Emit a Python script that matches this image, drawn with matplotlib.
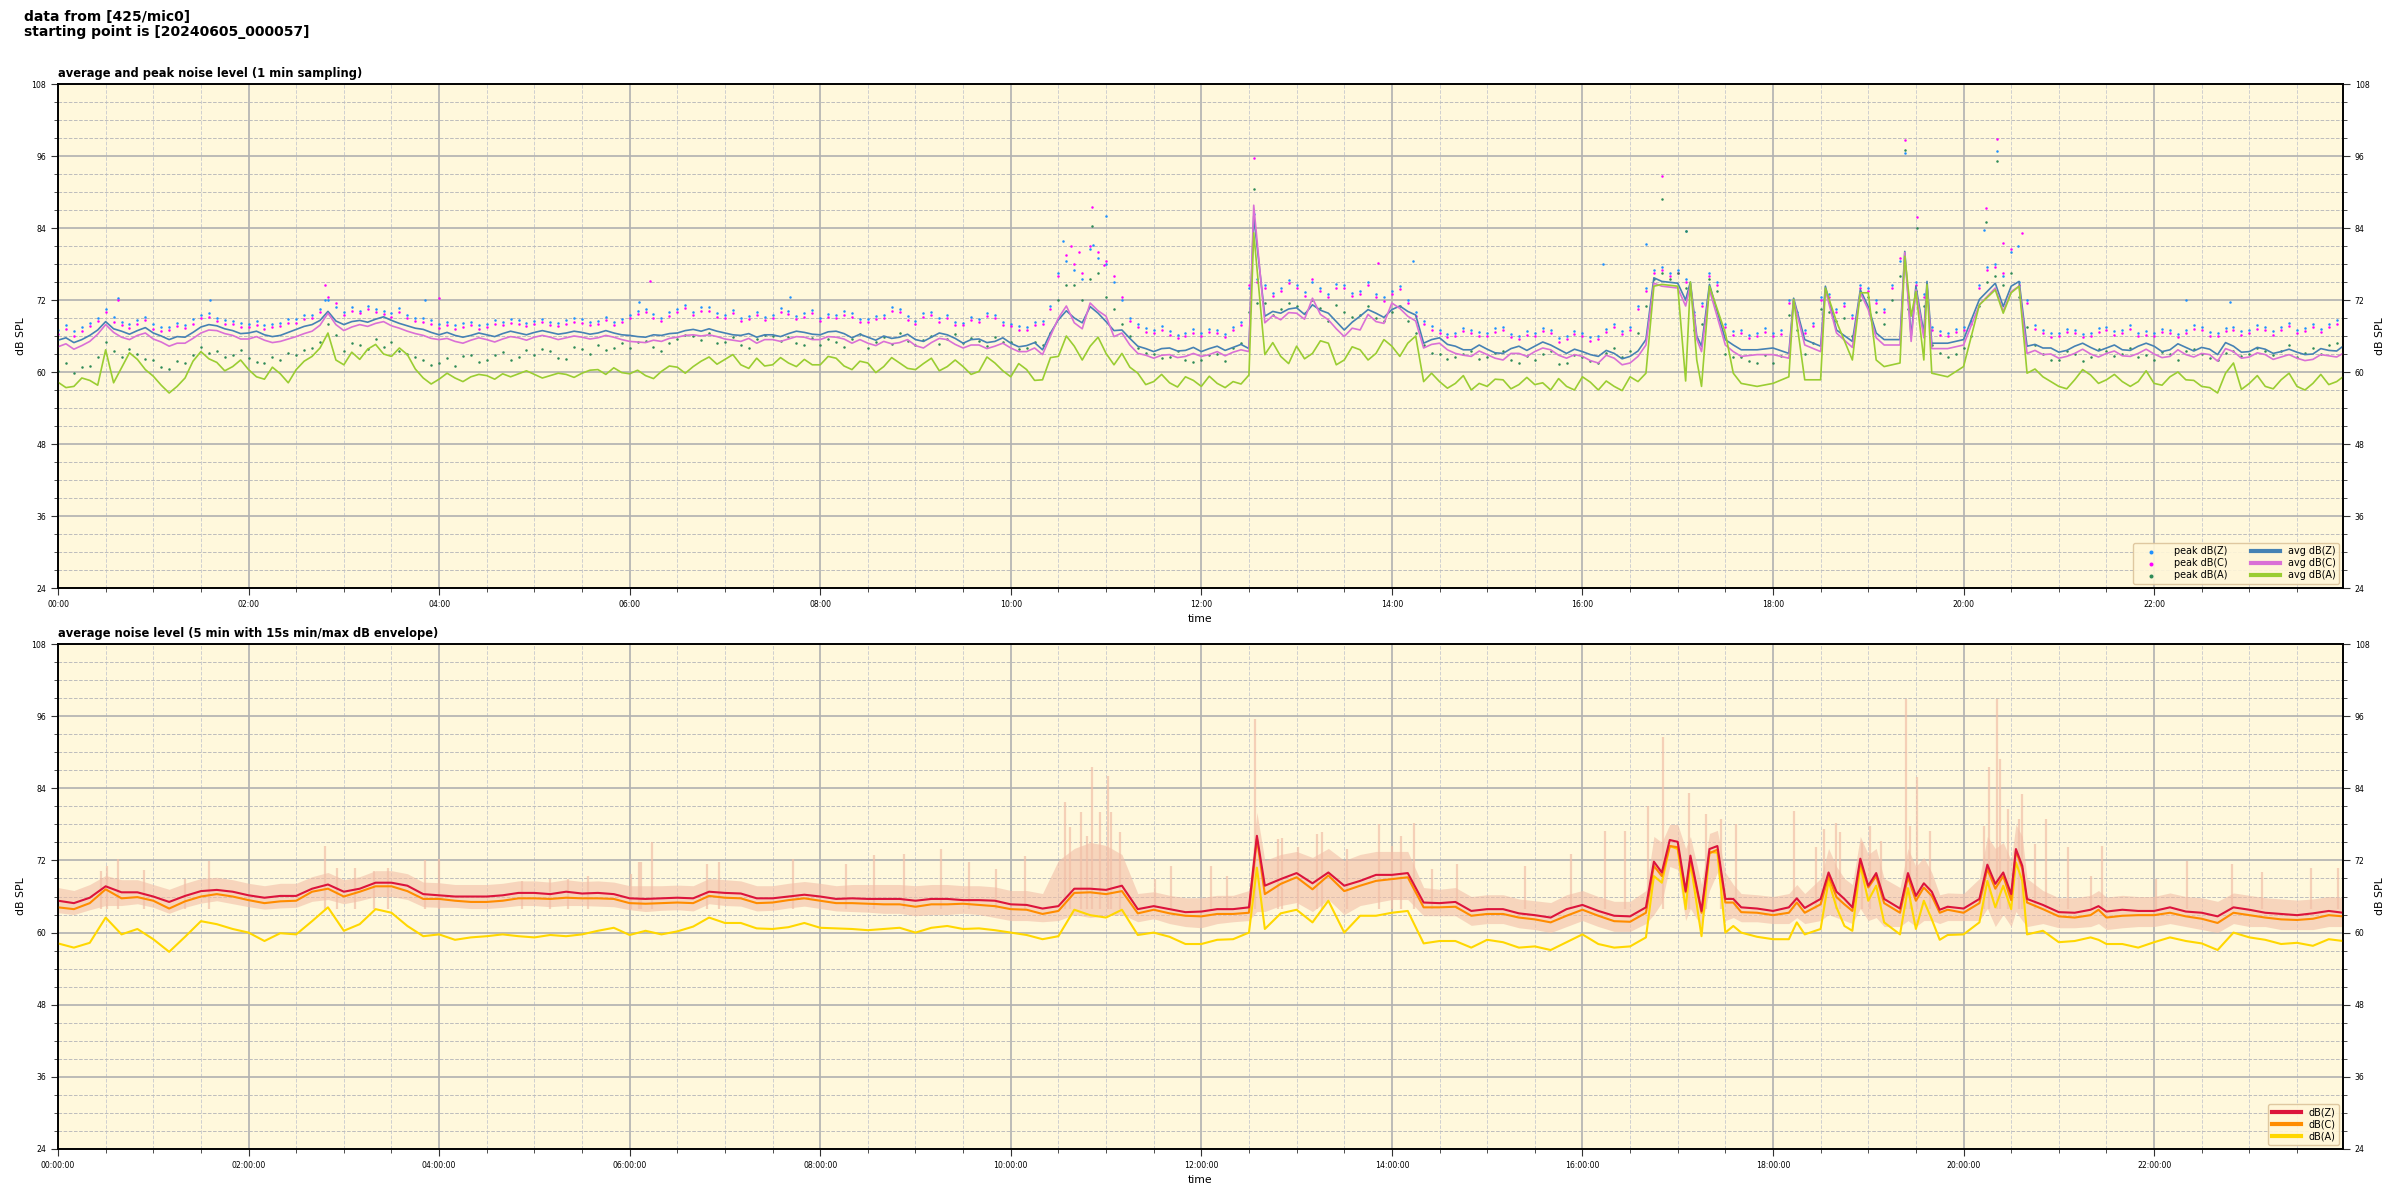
import matplotlib
matplotlib.use("Agg")
import matplotlib.pyplot as plt
from matplotlib.ticker import MultipleLocator, FuncFormatter
from matplotlib.lines import Line2D

# ---------------- top panel: 1-min averages (minutes after 00:00)
top_t = [0, 10, 20, 30, 40, 50, 60, 70, 80, 90, 100, 110, 120, 130, 140, 150, 160, 170, 180, 190,
         200, 210, 220, 230, 240, 250, 260, 270, 280, 290, 300, 310, 320, 330, 340, 350, 360, 370, 380, 390,
         400, 410, 420, 430, 440, 450, 460, 470, 480, 490,
         500, 510, 520, 530, 540, 550, 560, 570, 580, 590, 600, 610, 620, 630, 640, 650, 660, 670, 680, 690,
         700, 710, 720, 730, 740, 750, 753,
         760, 770, 780, 790, 800, 810, 820, 830, 840, 850, 860, 870, 880, 890, 900, 910, 920, 930, 940, 950,
         960, 970, 980, 990, 1000,
         1005, 1010, 1020, 1025, 1028, 1032, 1035, 1040, 1050, 1055, 1060, 1070, 1080, 1090, 1093, 1100, 1110,
         1113, 1120, 1130, 1135, 1140, 1145, 1150, 1160, 1163, 1167, 1170, 1175, 1177, 1180, 1190, 1200, 1210,
         1220, 1225, 1230, 1235, 1240,
         1250, 1260, 1270, 1280, 1290, 1300, 1310, 1320, 1330, 1340, 1350, 1360, 1370, 1380, 1390, 1400, 1410,
         1420, 1430, 1439]

avg_z = [65.3, 64.9, 66.1, 68.4, 66.8, 66.9, 66.5, 65.4, 65.8, 67.5, 67.7, 66.9, 66.5, 66.2, 66.1, 67.1, 67.9, 70.1, 67.9, 68.6,
         68.8, 68.6, 67.7, 67.1, 66.2, 66.1, 66.1, 66.2, 66.4, 66.5, 66.6, 66.6, 66.5, 66.6, 66.5, 66.5, 66.1, 65.8, 66.1, 66.5,
         67.1, 67.2, 66.5, 66.1, 65.8, 66.2, 66.4, 66.6, 66.2, 66.8,
         65.7, 65.8, 66.0, 65.8, 65.4, 65.8, 66.2, 64.8, 65.5, 65.1, 64.8, 64.4, 63.7, 68.7, 69.0, 70.9, 68.4, 67.0, 64.3, 63.4,
         64.0, 63.6, 63.4, 64.3, 64.1, 63.9, 86.0,
         69.3, 69.8, 70.7, 71.2, 69.8, 67.0, 69.3, 69.8, 70.4, 70.1, 64.8, 65.7, 64.3, 63.7, 63.8, 63.1, 64.3, 64.3, 64.5, 63.1,
         63.4, 62.6, 63.1, 62.6, 65.4,
         75.7, 75.1, 74.8, 72.0, 75.0, 66.0, 64.3, 74.6, 65.4, 64.5, 63.7, 63.7, 64.0, 63.1, 72.3, 65.4, 64.3,
         74.3, 67.0, 65.1, 73.7, 70.9, 66.5, 65.4, 65.4, 80.1, 65.9, 74.3, 66.5, 75.1, 64.8, 64.8, 65.4, 72.1,
         74.8, 70.9, 74.3, 75.1, 64.3,
         64.0, 63.3, 64.3, 64.1, 64.0, 63.7, 64.3, 64.3, 63.7, 64.1, 64.1, 62.9, 64.3, 63.4, 63.8, 63.4, 63.3,
         63.0, 63.6, 64.3]

avg_c = [64.2, 63.8, 65.1, 67.9, 65.8, 66.1, 65.5, 64.3, 64.8, 66.5, 66.9, 66.1, 65.5, 65.3, 65.1, 65.9, 66.8, 69.8, 66.9, 67.9,
         68.1, 67.7, 66.8, 66.1, 65.4, 65.1, 65.3, 65.4, 65.5, 65.7, 65.8, 65.8, 65.7, 65.8, 65.7, 65.8, 65.1, 64.9, 65.1, 65.8,
         66.2, 66.2, 65.5, 65.1, 64.8, 65.4, 65.5, 65.8, 65.4, 65.8,
         64.8, 64.8, 65.1, 64.9, 64.4, 64.9, 65.4, 64.0, 64.5, 64.3, 64.0, 63.4, 62.9, 69.0, 68.2, 71.5, 69.3, 66.5, 63.1, 62.3,
         62.9, 62.6, 62.6, 63.4, 63.3, 63.4, 87.8,
         68.2, 68.7, 69.8, 72.3, 68.7, 65.9, 67.0, 68.4, 71.5, 69.3, 64.0, 64.8, 63.1, 62.6, 62.9, 62.0, 63.1, 63.4, 63.7, 62.3,
         62.6, 61.5, 62.3, 61.5, 64.5,
         74.8, 74.3, 74.0, 71.0, 74.5, 65.5, 63.4, 73.7, 64.5, 63.4, 62.6, 62.9, 62.9, 62.3, 72.0, 64.5, 63.4,
         73.7, 66.5, 64.1, 73.2, 70.4, 65.7, 64.5, 64.5, 79.9, 65.1, 73.7, 65.7, 74.3, 63.9, 63.9, 64.5, 71.2,
         74.0, 70.1, 73.4, 74.3, 63.1,
         62.9, 62.3, 63.1, 63.0, 63.1, 62.7, 63.1, 63.0, 62.6, 62.9, 63.1, 61.8, 63.4, 62.5, 62.9, 62.5, 62.3,
         62.1, 62.7, 63.1]

avg_a = [58.3, 57.6, 58.6, 63.7, 60.7, 62.1, 59.3, 56.5, 59.0, 63.4, 61.6, 60.9, 60.4, 58.8, 59.7, 60.4, 62.6, 66.5, 61.2, 62.1,
         64.6, 62.6, 62.9, 59.0, 58.8, 59.0, 59.2, 59.4, 59.7, 59.7, 59.6, 59.4, 59.6, 59.8, 60.4, 60.7, 59.7, 59.4, 60.1, 60.8,
         60.9, 62.5, 62.1, 61.2, 62.3, 61.2, 61.5, 62.1, 61.2, 62.3,
         60.4, 61.5, 60.9, 61.5, 60.4, 62.3, 60.9, 60.9, 60.1, 61.5, 59.2, 60.4, 58.7, 62.6, 64.3, 64.3, 63.1, 63.1, 59.8, 58.4,
         58.2, 59.2, 57.6, 58.1, 58.4, 59.5, 83.2,
         62.9, 62.6, 64.3, 63.1, 64.8, 62.0, 63.7, 63.1, 64.3, 64.8, 58.4, 58.4, 58.1, 57.0, 57.6, 58.7, 57.9, 57.9, 57.0, 57.6,
         59.2, 57.0, 57.6, 59.2, 59.8,
         74.3, 74.6, 74.3, 58.5, 75.0, 62.0, 57.6, 74.3, 66.5, 59.8, 58.1, 57.6, 58.1, 59.2, 72.1, 58.7, 58.7,
         74.0, 68.4, 62.0, 73.2, 73.2, 62.0, 60.9, 61.5, 79.3, 69.3, 73.4, 62.0, 74.6, 59.8, 59.2, 60.9, 71.2,
         73.7, 69.8, 73.2, 74.3, 59.8,
         59.2, 57.6, 58.7, 59.5, 58.7, 58.4, 58.4, 58.1, 59.2, 58.7, 57.6, 56.5, 61.5, 58.1, 57.6, 58.7, 57.6,
         58.1, 57.9, 59.2]

# additional 1-min average readings in the calmer stretches (minute, dB)
mid_t = [5, 15, 25, 35, 45, 55, 65, 75, 85, 95, 105, 115, 125, 135, 145, 155, 165, 175, 185, 195,
         205, 215, 225, 235, 245, 255, 265, 275, 285, 295, 305, 315, 325, 335, 345, 355, 365, 375, 385, 395,
         405, 415, 425, 435, 445, 455, 465, 475, 485, 495,
         505, 515, 525, 535, 545, 555, 565, 575, 585, 595, 605, 615, 625, 635, 645, 655, 665, 675, 685, 695,
         705, 715, 725, 735, 745,
         765, 775, 785, 795, 805, 815, 825, 835, 845, 855, 865, 875, 885, 895, 905, 915, 925, 935, 945, 955,
         965, 975, 985, 995,
         1245, 1255, 1265, 1275, 1285, 1295, 1305, 1315, 1325, 1335, 1345, 1355, 1365, 1375, 1385, 1395, 1405,
         1415, 1425, 1435]
mid_z = [65.7, 65.4, 67.0, 67.2, 66.3, 67.4, 66.0, 65.9, 66.6, 67.9, 67.2, 66.4, 66.8, 65.9, 66.6, 67.6, 68.6, 68.5, 68.4, 68.3,
         69.2, 68.1, 67.3, 66.6, 66.6, 65.8, 66.5, 65.9, 66.8, 66.2, 66.9, 66.3, 66.8, 66.3, 66.9, 66.2, 65.9, 66.2, 66.4, 66.9,
         66.8, 66.8, 66.2, 66.4, 66.2, 65.9, 66.8, 66.3, 66.7, 66.4,
         66.3, 65.3, 65.6, 66.3, 65.1, 66.5, 65.6, 65.4, 64.9, 65.7, 64.2, 64.9, 66.5, 70.2, 68.2, 69.8, 66.9, 65.6, 63.9, 63.9,
         63.5, 64.1, 63.9, 63.6, 64.6,
         70.1, 70.5, 69.6, 70.3, 68.4, 68.3, 70.4, 69.1, 71.0, 69.5, 65.4, 64.6, 63.7, 64.5, 63.2, 63.9, 63.6, 65.0, 63.8, 63.8,
         62.9, 63.6, 62.2, 63.5,
         64.6, 64.0, 63.6, 64.8, 63.5, 64.5, 63.6, 64.8, 63.4, 64.7, 63.5, 63.8, 64.9, 63.3, 64.1, 63.1, 63.8,
         62.9, 63.9, 63.5]
mid_c = [64.7, 64.4, 66.3, 66.6, 65.4, 66.5, 65.0, 64.8, 65.6, 67.0, 66.4, 65.5, 65.9, 64.9, 65.5, 66.4, 67.8, 67.9, 67.5, 67.6,
         68.4, 67.3, 66.4, 65.6, 65.6, 64.8, 65.7, 65.0, 65.9, 65.3, 66.1, 65.4, 66.0, 65.5, 66.1, 65.4, 65.0, 65.3, 65.6, 66.1,
         66.0, 65.9, 65.3, 65.6, 65.4, 65.1, 65.9, 65.4, 65.9, 65.5,
         65.4, 64.4, 64.7, 65.4, 64.0, 65.6, 64.6, 64.5, 63.9, 64.8, 63.4, 64.0, 66.0, 71.0, 67.2, 70.2, 65.9, 64.5, 62.8, 62.8,
         62.4, 63.1, 62.9, 62.7, 63.7,
         69.4, 69.9, 68.8, 69.6, 67.2, 67.3, 69.6, 68.1, 70.6, 68.5, 64.6, 63.7, 62.8, 63.5, 62.3, 63.1, 62.6, 64.0, 62.8, 62.9,
         61.9, 62.8, 61.2, 62.6,
         63.6, 63.0, 62.6, 63.8, 62.5, 63.5, 62.6, 63.8, 62.4, 63.7, 62.5, 62.9, 63.9, 62.3, 63.2, 62.1, 62.9,
         61.9, 62.9, 62.5]
mid_a = [57.4, 59.0, 57.8, 58.2, 63.2, 60.4, 57.8, 57.6, 61.8, 62.2, 60.2, 62.0, 59.2, 60.8, 58.2, 61.8, 64.0, 62.0, 63.3, 63.8,
         63.0, 64.0, 60.5, 58.0, 59.8, 58.4, 59.6, 58.8, 59.2, 60.2, 59.0, 59.8, 59.1, 60.3, 59.6, 59.9, 60.3, 58.9, 61.0, 59.8,
         61.8, 61.3, 62.9, 60.6, 61.0, 62.4, 60.9, 61.2, 62.6, 61.0,
         61.8, 59.9, 62.4, 60.6, 61.4, 60.2, 62.0, 59.6, 62.5, 60.2, 61.4, 58.6, 62.4, 66.0, 62.0, 65.8, 61.2, 60.8, 57.9, 59.6,
         57.5, 58.6, 59.3, 57.4, 58.0,
         64.9, 61.4, 62.2, 65.2, 61.2, 64.2, 62.0, 65.4, 62.6, 66.0, 59.8, 57.3, 59.4, 58.1, 58.8, 57.2, 59.1, 58.2, 58.9, 57.0,
         58.3, 58.5, 56.9, 58.4,
         60.5, 58.4, 57.2, 60.4, 58.1, 59.6, 57.6, 60.2, 57.8, 60.0, 58.6, 57.4, 59.8, 57.1, 59.4, 57.2, 59.8,
         57.0, 59.6, 58.4]

# peak values, readings every 10 min starting 00:00 (set 1) and 00:05 (set 2)
peak_z = [67.0, 66.8, 68.2, 70.5, 68.3, 68.6, 68.0, 67.5, 67.8, 69.5, 69.0, 68.5,
          68.0, 67.8, 68.2, 68.8, 69.5, 72.0, 70.0, 70.2, 70.5, 69.8, 69.5, 69.0,
          68.0, 67.8, 68.4, 68.0, 68.3, 68.6, 68.5, 68.4, 68.6, 68.8, 68.5, 68.4,
          69.5, 70.5, 69.0, 70.5, 70.0, 70.8, 69.5, 69.0, 70.0, 69.5, 70.2, 69.8,
          69.0, 69.5, 69.8, 68.8, 69.5, 70.5, 68.5, 70.0, 69.5, 68.2, 68.8, 69.5,
          68.0, 67.5, 68.5, 76.5, 77.0, 80.5, 78.0, 72.0, 68.0, 67.0, 66.8, 66.5,
          66.5, 67.0, 67.5, 74.0, 74.5, 74.0, 74.5, 75.0, 73.0, 74.5, 73.5, 73.0,
          73.5, 72.0, 68.5, 67.0, 66.5, 67.0, 66.5, 67.5, 66.0, 66.5, 67.0, 66.0,
          66.5, 66.0, 68.0, 67.5, 74.0, 77.5, 77.0, 70.0, 76.5, 68.0, 67.0, 66.5,
          66.5, 72.0, 67.0, 72.5, 70.5, 69.5, 74.0, 70.5, 78.5, 75.0, 67.5, 66.5,
          67.5, 74.5, 78.0, 80.0, 72.0, 67.0, 66.5, 67.0, 66.5, 67.5, 67.0, 66.5,
          66.5, 67.0, 67.0, 67.5, 66.5, 67.5, 67.0, 67.5, 67.5, 67.0, 68.0, 68.0]
peak_c = [66.4, 66.0, 67.6, 70.0, 67.8, 68.0, 67.2, 67.0, 67.4, 69.0, 68.5, 68.0,
          67.5, 67.2, 67.6, 68.2, 69.0, 72.5, 69.5, 69.8, 70.0, 69.2, 69.0, 68.4,
          67.4, 67.2, 67.8, 67.5, 67.8, 68.0, 68.0, 67.8, 68.0, 68.2, 68.0, 67.8,
          69.0, 70.0, 68.5, 70.0, 69.5, 70.2, 69.0, 68.5, 69.5, 69.0, 69.6, 69.2,
          68.5, 69.0, 69.2, 68.3, 69.0, 70.0, 68.0, 69.5, 69.0, 67.8, 68.3, 69.0,
          67.6, 67.0, 68.0, 76.0, 78.0, 81.0, 78.5, 72.5, 67.5, 66.5, 66.2, 66.0,
          66.0, 66.5, 67.0, 74.5, 74.0, 73.5, 74.0, 75.5, 72.5, 74.0, 73.0, 72.5,
          73.0, 71.5, 68.0, 66.5, 66.0, 66.5, 66.0, 67.0, 65.5, 66.0, 66.5, 65.5,
          66.0, 65.5, 67.5, 67.0, 73.5, 77.0, 76.5, 69.5, 76.0, 67.5, 66.5, 66.0,
          66.0, 71.5, 66.5, 72.0, 70.0, 69.0, 73.5, 70.0, 79.0, 74.5, 67.0, 66.0,
          67.0, 74.0, 77.5, 80.5, 71.5, 66.5, 66.0, 66.5, 66.0, 67.0, 66.5, 66.0,
          66.0, 66.5, 66.5, 67.0, 66.0, 67.0, 66.5, 67.0, 67.0, 66.5, 67.5, 67.5]
peak_a = [60.2, 59.8, 61.0, 65.0, 62.5, 63.0, 62.0, 60.5, 61.5, 64.2, 63.5, 62.8,
          62.3, 61.5, 62.0, 62.8, 64.0, 68.0, 63.5, 64.5, 65.5, 65.0, 63.0, 62.0,
          61.5, 61.0, 62.8, 62.0, 63.3, 62.5, 62.8, 63.5, 62.2, 63.8, 64.5, 64.0,
          64.0, 65.2, 63.5, 65.5, 66.0, 66.5, 65.0, 64.5, 65.5, 66.0, 65.8, 64.5,
          64.5, 65.0, 65.5, 64.0, 65.8, 66.5, 64.5, 66.0, 65.5, 64.8, 65.2, 65.8,
          65.0, 64.0, 64.5, 72.0, 74.5, 75.5, 72.5, 68.0, 64.0, 63.0, 62.5, 62.0,
          62.0, 63.0, 64.0, 70.0, 71.5, 70.5, 71.0, 72.0, 68.5, 70.0, 69.5, 69.0,
          70.0, 68.5, 64.5, 63.0, 62.5, 63.5, 62.5, 63.5, 61.5, 62.0, 63.5, 61.5,
          62.5, 61.5, 64.0, 63.5, 71.0, 76.5, 76.5, 67.0, 75.5, 63.0, 62.5, 61.5,
          61.5, 69.5, 63.0, 70.5, 68.5, 66.0, 72.5, 68.0, 76.0, 73.5, 64.5, 62.5,
          64.0, 71.0, 76.0, 76.5, 67.5, 63.0, 62.0, 63.0, 62.5, 63.5, 63.0, 62.5,
          62.0, 63.0, 63.5, 63.0, 62.0, 63.5, 63.0, 63.5, 63.5, 62.5, 64.0, 64.5]
peak2_z = [67.8, 67.5, 69.0, 69.2, 68.0, 69.2, 67.5, 68.2, 68.8, 69.8, 68.6, 68.2,
           68.5, 68.0, 68.8, 69.5, 70.5, 70.8, 70.8, 71.0, 70.2, 70.6, 69.0, 68.6,
           68.4, 68.2, 67.9, 68.6, 68.8, 68.2, 68.9, 68.2, 69.0, 68.4, 69.2, 68.9,
           70.2, 69.6, 70.0, 71.2, 70.8, 69.8, 70.4, 69.4, 69.2, 70.6, 69.3, 70.4,
           69.7, 70.1, 68.9, 69.4, 70.8, 69.3, 69.8, 69.0, 68.4, 69.2, 69.9, 68.4,
           67.6, 68.4, 71.0, 78.5, 75.5, 79.0, 75.0, 69.0, 67.3, 67.6, 66.2, 67.1,
           67.2, 66.4, 68.4, 75.5, 73.2, 75.4, 73.3, 74.0, 74.6, 73.2, 75.0, 72.5,
           74.4, 70.0, 67.6, 66.4, 67.4, 66.6, 67.3, 66.4, 66.8, 67.4, 65.6, 66.9,
           65.8, 67.2, 66.9, 71.0, 77.0, 76.5, 75.5, 71.5, 75.0, 66.8, 66.2, 67.3,
           67.0, 70.0, 68.2, 73.0, 71.5, 74.5, 72.0, 74.5, 72.5, 73.0, 66.8, 67.2,
           68.5, 77.5, 76.0, 75.0, 67.8, 66.5, 67.2, 66.4, 67.3, 66.8, 67.8, 66.8,
           67.2, 66.4, 67.8, 66.6, 67.4, 66.8, 67.8, 66.8, 68.2, 67.4, 67.2, 68.6]
peak2_c = [67.2, 66.8, 68.5, 68.4, 67.4, 68.6, 66.9, 67.6, 68.0, 69.2, 68.0, 67.5,
           67.8, 67.5, 68.2, 68.8, 70.0, 71.5, 70.2, 70.5, 69.6, 70.0, 68.5, 68.0,
           67.8, 67.5, 67.2, 68.0, 68.2, 67.6, 68.4, 67.6, 68.4, 67.8, 68.6, 68.3,
           69.6, 69.0, 69.4, 70.6, 70.2, 69.2, 69.8, 68.8, 68.6, 70.0, 68.8, 69.8,
           69.1, 69.5, 68.3, 68.8, 70.2, 68.7, 69.2, 68.4, 67.8, 68.6, 69.3, 67.9,
           67.0, 67.8, 70.5, 79.5, 76.5, 80.0, 76.0, 68.5, 66.7, 67.0, 65.6, 66.5,
           66.6, 65.8, 67.8, 75.0, 72.6, 74.8, 72.7, 73.5, 74.0, 72.6, 74.5, 71.9,
           73.8, 69.4, 67.0, 65.8, 66.8, 66.0, 66.7, 65.8, 66.2, 66.8, 65.0, 66.3,
           65.2, 66.6, 66.3, 70.5, 76.5, 76.0, 75.0, 71.0, 74.5, 66.2, 65.6, 66.7,
           66.4, 69.5, 67.6, 72.5, 71.0, 74.0, 71.5, 74.0, 72.0, 72.5, 66.2, 66.6,
           68.0, 77.0, 76.5, 74.5, 67.2, 65.9, 66.6, 65.8, 66.7, 66.2, 67.2, 66.2,
           66.6, 65.8, 67.2, 66.0, 66.8, 66.2, 67.2, 66.2, 67.6, 66.8, 66.6, 68.0]
peak2_a = [61.5, 60.8, 62.5, 63.5, 63.8, 62.2, 60.8, 61.8, 62.8, 63.2, 62.5, 63.6,
           61.6, 62.5, 63.2, 63.6, 65.0, 66.2, 64.8, 63.8, 64.2, 63.5, 62.5, 61.2,
           62.3, 62.6, 61.6, 62.8, 62.0, 63.6, 63.9, 62.4, 64.2, 63.0, 63.6, 64.8,
           65.0, 64.2, 64.8, 66.2, 65.4, 64.8, 65.8, 64.0, 66.2, 65.2, 64.8, 65.6,
           65.5, 64.2, 66.4, 65.0, 64.6, 65.2, 65.4, 64.6, 66.3, 65.6, 64.4, 65.0,
           63.8, 65.0, 66.5, 74.5, 72.0, 76.5, 70.5, 66.0, 63.2, 62.4, 63.5, 61.6,
           62.8, 61.8, 64.8, 71.5, 69.5, 71.5, 69.8, 70.6, 71.2, 69.2, 71.0, 68.5,
           71.0, 66.5, 63.2, 62.2, 63.0, 62.2, 63.2, 62.0, 62.6, 63.0, 61.4, 62.8,
           61.8, 63.2, 62.5, 66.5, 75.5, 75.5, 74.0, 68.0, 73.5, 62.5, 61.8, 62.8,
           62.6, 67.0, 64.8, 70.0, 69.0, 72.0, 70.0, 72.0, 70.5, 71.0, 63.2, 63.0,
           66.0, 75.0, 74.5, 72.5, 64.5, 62.0, 63.5, 61.8, 63.8, 62.6, 64.0, 62.8,
           63.4, 62.0, 63.8, 62.4, 63.2, 62.6, 64.0, 62.8, 64.5, 63.2, 63.0, 64.8]

# isolated high peak readings (minute, dB)
out_z_t = [38, 96, 168, 231, 366, 461, 633, 652, 660, 753, 853, 973, 1000, 1025, 1163, 1213, 1221, 1234, 1340, 1368]
out_z_v = [72.3, 72.0, 72.0, 72.0, 71.7, 72.5, 81.9, 81.1, 86.0, 86.3, 78.5, 78.0, 81.4, 83.5, 96.5, 83.7, 96.8, 81.0, 72.0, 71.6]
out_c_t = [38, 168, 240, 373, 638, 643, 651, 659, 753, 831, 1010, 1163, 1171, 1214, 1221, 1225, 1237]
out_c_v = [72.0, 74.5, 72.3, 75.1, 81.0, 80.0, 87.5, 77.9, 95.7, 78.2, 92.7, 98.7, 85.9, 87.4, 98.8, 81.5, 83.2]
out_a_t = [651, 753, 1010, 1025, 1163, 1171, 1214, 1221]
out_a_v = [84.3, 90.5, 88.8, 83.5, 97.0, 84.0, 85.0, 95.2]

# ---------------- bottom panel: 5-min averages with 15 s min/max envelope
bot_t = [0, 10, 20, 30, 40, 50, 60, 70, 80, 90, 100, 110, 120, 130, 140, 150, 160, 170, 180, 190,
         200, 210, 220, 230, 240, 250, 260, 270, 280, 290, 300, 310, 320, 330, 340, 350, 360,
         370, 380, 390, 400, 410, 420, 430, 440, 450, 460, 470, 480, 490, 500, 510, 520, 530, 540, 550,
         560, 570, 580, 590, 600, 610, 620, 630, 640, 650, 660, 670, 680, 690, 700, 710, 720, 730,
         740, 750, 755, 760, 770, 780, 790, 800, 810, 820, 830, 840, 850, 860, 870, 880, 890, 900, 910, 920,
         930, 940, 950, 960, 970, 980, 990, 1000, 1005, 1010, 1015, 1020, 1025, 1028, 1035, 1040, 1045, 1050,
         1055, 1060, 1070, 1080, 1090, 1095,
         1100, 1110, 1115, 1120, 1125, 1130, 1135, 1140, 1145, 1150, 1160, 1165, 1170, 1175, 1180, 1185, 1190,
         1200, 1210, 1215, 1220, 1225, 1230, 1233, 1237, 1240, 1250, 1260, 1270, 1280, 1285, 1290, 1300, 1310,
         1320, 1330, 1340, 1350, 1360, 1370, 1380, 1390, 1400, 1410, 1420, 1430, 1439]

db_z = [65.3, 64.9, 65.8, 67.7, 66.7, 66.7, 66.0, 65.1, 66.1, 66.9, 67.1, 66.8, 66.2, 65.8, 66.1, 66.1, 67.3, 68.0, 66.8, 67.3,
        68.3, 68.3, 67.8, 66.4, 66.2, 66.0, 66.0, 66.0, 66.2, 66.6, 66.6, 66.4, 66.8, 66.5, 66.6, 66.4, 65.7,
        65.6, 65.7, 65.8, 65.7, 66.8, 66.6, 66.5, 65.7, 65.7, 66.0, 66.3, 66.0, 65.6, 65.7, 65.6, 65.6, 65.6, 65.3, 65.6,
        65.6, 65.4, 65.4, 65.3, 64.7, 64.6, 64.0, 64.4, 67.3, 67.3, 67.1, 67.8, 63.9, 64.4, 63.9, 63.4, 63.5, 63.9,
        63.9, 64.2, 76.1, 67.8, 68.9, 69.9, 68.2, 70.0, 67.8, 68.6, 69.6, 69.6, 69.9, 65.0, 64.9, 65.1, 63.6, 63.9, 63.9, 63.2,
        62.9, 62.5, 63.9, 64.6, 63.6, 62.8, 62.7, 64.2, 71.8, 70.0, 75.4, 75.1, 66.9, 72.8, 63.6, 73.9, 74.4, 65.6,
        65.6, 64.2, 64.0, 63.6, 64.2, 65.7,
        64.1, 65.6, 70.0, 66.8, 65.6, 64.2, 72.3, 67.8, 69.9, 65.6, 64.0, 69.9, 66.1, 68.2, 66.8, 63.8, 64.3,
        64.0, 65.6, 71.3, 68.1, 70.0, 66.4, 73.9, 71.1, 65.6, 64.6, 63.4, 63.3, 63.8, 64.4, 63.5, 63.8, 63.6,
        63.6, 64.2, 63.5, 63.3, 62.7, 64.2, 63.8, 63.3, 63.1, 62.9, 63.2, 63.6, 63.3]

db_c = [64.2, 63.9, 64.9, 67.2, 65.7, 65.9, 65.3, 64.0, 65.2, 66.0, 66.4, 66.0, 65.4, 64.9, 65.2, 65.3, 66.8, 67.3, 66.0, 66.8,
        67.7, 67.7, 66.9, 65.6, 65.6, 65.3, 65.1, 65.1, 65.3, 65.7, 65.7, 65.6, 65.8, 65.7, 65.7, 65.6, 64.9,
        64.8, 64.9, 65.0, 64.9, 66.1, 65.8, 65.7, 64.9, 65.0, 65.4, 65.7, 65.3, 64.9, 64.9, 64.8, 64.7, 64.7, 64.3, 64.7,
        64.7, 64.8, 64.6, 64.4, 63.9, 63.8, 63.1, 63.6, 66.6, 66.7, 66.4, 66.9, 63.2, 63.8, 63.2, 62.8, 62.7, 63.1,
        63.1, 63.3, 75.6, 66.4, 68.1, 69.2, 67.2, 69.5, 66.9, 67.8, 68.6, 68.9, 69.2, 64.2, 64.2, 64.3, 62.8, 63.1, 63.1, 62.5,
        62.2, 61.7, 62.8, 63.8, 62.8, 61.9, 61.8, 63.3, 71.1, 69.4, 74.4, 74.2, 66.7, 72.2, 63.3, 73.2, 73.8, 65.0,
        65.0, 63.4, 63.3, 62.9, 63.3, 65.0,
        63.3, 64.7, 69.4, 65.9, 64.7, 63.6, 71.7, 67.5, 69.4, 64.9, 63.3, 69.2, 65.3, 67.5, 66.1, 63.3, 63.8,
        63.3, 64.9, 70.6, 67.3, 69.4, 65.4, 73.6, 70.6, 65.0, 63.9, 62.7, 62.5, 62.9, 63.8, 62.5, 62.8, 62.9,
        62.9, 63.3, 62.7, 62.3, 61.6, 63.3, 62.9, 62.5, 62.2, 62.1, 62.3, 62.9, 62.7]

db_a = [58.2, 57.5, 58.3, 62.5, 59.7, 60.6, 58.9, 56.8, 59.3, 61.9, 61.4, 60.6, 60.0, 58.6, 59.9, 59.7, 61.9, 64.2, 60.3, 61.4,
        63.9, 63.3, 61.1, 59.4, 59.7, 58.8, 59.2, 59.4, 59.7, 59.4, 59.2, 59.6, 59.4, 59.7, 60.3, 60.8, 59.6,
        60.3, 59.7, 60.2, 61.0, 62.5, 61.6, 61.6, 60.7, 60.6, 60.9, 61.6, 60.8, 60.7, 60.6, 60.4, 60.6, 60.8, 60.0, 60.8,
        61.1, 60.6, 60.7, 60.4, 60.0, 59.6, 58.9, 59.4, 63.8, 62.9, 62.5, 63.8, 59.6, 60.0, 59.3, 58.1, 58.1, 58.8,
        58.9, 60.0, 70.8, 60.6, 63.2, 63.8, 61.7, 65.3, 60.0, 62.8, 62.8, 63.3, 63.6, 58.2, 58.6, 58.6, 57.5, 58.8, 58.4, 57.5,
        57.7, 57.1, 58.4, 59.7, 58.1, 57.5, 57.7, 59.2, 69.4, 68.3, 74.4, 73.9, 63.9, 71.7, 59.4, 73.4, 73.3, 60.0,
        61.1, 60.0, 59.3, 58.9, 58.9, 61.7,
        59.7, 60.6, 68.6, 64.2, 61.1, 60.3, 71.2, 65.3, 67.8, 61.7, 59.7, 67.4, 60.6, 65.3, 62.2, 58.8, 59.6,
        59.7, 61.7, 68.6, 64.2, 67.8, 63.9, 71.7, 68.6, 59.7, 60.3, 58.4, 58.6, 59.2, 58.8, 58.1, 58.1, 57.5,
        58.4, 59.2, 58.6, 58.2, 57.1, 60.0, 59.2, 58.8, 58.1, 58.3, 57.8, 58.9, 58.6]

# envelope band (typical 15 s max / min around the 5-min values)
env_hi = [67.5, 67.0, 68.0, 69.5, 68.8, 68.8, 68.0, 67.2, 68.2, 69.0, 69.2, 68.8, 68.2, 67.8, 68.2, 68.2, 69.3, 70.0, 68.8, 69.3,
          70.3, 70.3, 69.8, 68.4, 68.3, 68.0, 68.0, 68.0, 68.2, 68.6, 68.6, 68.4, 68.8, 68.5, 68.6, 68.4, 67.8,
          67.8, 67.8, 67.9, 67.8, 69.0, 68.8, 68.6, 67.8, 67.8, 68.2, 68.5, 68.2, 67.8, 68.0, 68.0, 68.0, 68.0, 67.8, 68.0,
          68.0, 67.8, 67.8, 67.6, 67.0, 67.0, 66.5, 72.0, 74.0, 75.0, 74.5, 73.0, 66.5, 66.8, 66.2, 65.8, 65.8, 66.2,
          66.2, 67.0, 80.0, 72.0, 73.0, 73.5, 72.5, 74.0, 72.0, 73.0, 73.5, 73.5, 73.5, 67.5, 67.2, 67.5, 66.0, 66.3, 66.3, 65.6,
          65.3, 65.0, 66.3, 67.0, 66.0, 65.2, 65.2, 67.0, 76.0, 75.0, 78.0, 78.0, 74.0, 76.0, 68.0, 76.5, 77.0, 70.0,
          68.0, 66.5, 66.3, 66.0, 66.5, 68.0,
          66.5, 69.0, 74.0, 71.0, 69.0, 68.0, 76.0, 73.0, 74.0, 69.0, 67.5, 74.0, 71.0, 72.5, 70.0, 66.3, 66.6,
          66.5, 69.0, 76.0, 74.0, 75.0, 72.0, 78.0, 76.0, 69.0, 67.0, 65.8, 65.8, 66.2, 67.0, 65.9, 66.2, 66.0,
          66.0, 66.6, 66.0, 65.8, 65.2, 66.6, 66.2, 65.8, 65.6, 65.4, 65.6, 66.0, 65.8]

env_lo = [63.3, 63.0, 63.8, 64.5, 64.5, 64.8, 64.2, 63.2, 64.2, 64.9, 65.3, 64.8, 64.3, 63.9, 64.1, 64.2, 65.2, 65.5, 64.8, 65.3,
          66.0, 66.0, 65.5, 64.3, 64.2, 64.2, 64.0, 64.0, 64.2, 64.5, 64.5, 64.3, 64.5, 64.5, 64.4, 64.3, 63.8,
          63.5, 63.7, 63.8, 63.6, 64.8, 64.5, 64.4, 63.6, 63.7, 64.1, 64.4, 64.0, 63.6, 63.5, 63.4, 63.2, 63.2, 62.8, 63.0,
          63.0, 63.2, 63.0, 62.5, 62.0, 62.0, 61.8, 62.0, 63.0, 62.5, 62.8, 63.0, 61.8, 62.3, 61.5, 61.0, 60.8, 61.5,
          61.8, 62.0, 63.5, 63.5, 64.5, 65.0, 63.5, 65.5, 63.0, 64.5, 65.0, 65.5, 65.5, 62.8, 62.8, 62.8, 61.2, 61.5, 61.5, 60.8,
          60.5, 60.0, 61.0, 62.0, 61.0, 60.2, 60.2, 61.5, 63.0, 65.0, 71.0, 70.5, 62.0, 64.0, 61.0, 67.0, 70.0, 62.0,
          62.5, 61.8, 61.8, 61.5, 61.5, 62.5,
          61.5, 62.0, 63.0, 62.5, 62.0, 61.5, 64.0, 62.0, 62.5, 61.0, 61.0, 62.0, 61.0, 62.0, 62.0, 61.5, 62.0,
          62.0, 62.0, 64.0, 61.0, 63.0, 61.0, 63.5, 62.0, 61.0, 61.5, 60.8, 60.8, 61.0, 61.5, 60.5, 60.8, 61.0,
          61.0, 61.5, 61.0, 60.5, 60.0, 61.5, 61.0, 61.0, 60.5, 60.5, 60.5, 61.0, 61.0]

# single 15 s maxima that stick out of the band (minute, dB)
spike_t = [27, 31, 38, 54, 80, 95, 168, 176, 187, 199, 208, 231, 240, 292, 310, 321, 334, 361, 366, 367,
           374, 409, 416, 463, 496, 514, 533, 556, 574, 591, 609, 634, 637, 644, 648, 651, 656, 661, 663, 669,
           691, 701, 726, 736, 754, 768, 771, 781, 793, 796, 812, 832, 840, 846, 854, 865, 881, 924, 953, 974,
           987, 1001, 1011, 1027, 1038, 1047, 1057, 1093, 1107, 1112, 1120, 1122, 1136, 1141, 1148, 1164, 1166,
           1171, 1179, 1213, 1216, 1221, 1223, 1228, 1235, 1237, 1245, 1252, 1266, 1280, 1287, 1321, 1341, 1369,
           1388, 1419, 1436]
spike_v = [70.3, 71.1, 72.2, 70.4, 68.9, 71.9, 74.4, 70.8, 70.8, 70.3, 70.8, 72.1, 72.2, 68.6, 68.9, 68.9, 69.4, 69.7, 71.8, 71.7,
           75.0, 71.4, 71.7, 72.3, 71.4, 72.9, 73.1, 73.9, 71.8, 70.6, 72.7, 81.7, 77.5, 80.0, 76.1, 87.5, 80.0, 86.1, 80.0, 76.7,
           68.9, 71.1, 71.1, 69.4, 95.6, 75.6, 75.8, 74.2, 76.4, 76.7, 73.9, 78.0, 74.4, 76.1, 78.3, 70.6, 71.4, 71.1, 73.1, 76.9,
           76.9, 81.1, 92.6, 83.3, 79.7, 78.9, 78.1, 80.3, 74.2, 77.2, 78.3, 76.7, 75.0, 77.8, 75.3, 98.9, 77.8,
           85.8, 76.9, 77.8, 87.5, 98.9, 88.9, 80.6, 78.9, 83.1, 74.7, 78.9, 74.2, 69.4, 74.4, 68.9, 71.9, 71.4,
           70.0, 70.8, 70.8]
spike_base = 64.0

peak_t = list(range(0, 1440, 10))
peak2_t = list(range(5, 1440, 10))

# ---------------- drawing
BG = '#fff8dc'
TICK_FS = 5.6
LABEL_FS = 7.8
ENV = '#f2bfa8'

fig = plt.figure(figsize=(24, 12), dpi=100)
fig.text(0.01, 0.992, "data from [425/mic0]\nstarting point is [20240605_000057]",
         ha='left', va='top', fontsize=10, fontweight='bold', linespacing=1.15)

ax1 = fig.add_axes([0.02417, 0.51, 0.9521, 0.42])
ax2 = fig.add_axes([0.02417, 0.0425, 0.9521, 0.4208])


def fmt_hm(x, pos):
    return f"{int(x // 60):02d}:{int(x % 60):02d}"


def fmt_hms(x, pos):
    return f"{int(x // 60):02d}:{int(x % 60):02d}:00"


def style(ax, fmt):
    ax.set_facecolor(BG)
    ax.set_xlim(0, 1439)
    ax.set_ylim(24, 108)
    ax.xaxis.set_major_locator(MultipleLocator(120))
    ax.xaxis.set_minor_locator(MultipleLocator(30))
    ax.yaxis.set_major_locator(MultipleLocator(12))
    ax.yaxis.set_minor_locator(MultipleLocator(3))
    ax.xaxis.set_major_formatter(FuncFormatter(fmt))
    ax.set_axisbelow(True)
    ax.grid(which='major', color='#b0b0b0', linewidth=1.2)
    ax.grid(which='minor', axis='y', color='#bdbdbd', linewidth=0.7, linestyle='--')
    ax.grid(which='minor', axis='x', color='#cfcfcf', linewidth=0.7, linestyle='--')
    ax.tick_params(which='major', labelsize=TICK_FS, length=5, width=0.8, color='#333333')
    ax.tick_params(which='minor', length=3, width=0.6, color='#333333')
    for s in ax.spines.values():
        s.set_linewidth(1.2)
    ax.set_xlabel('time', fontsize=LABEL_FS)
    ax.set_ylabel('dB SPL', fontsize=LABEL_FS)
    tw = ax.twinx()
    tw.set_ylim(24, 108)
    tw.yaxis.set_major_locator(MultipleLocator(12))
    tw.yaxis.set_minor_locator(MultipleLocator(3))
    tw.tick_params(which='major', labelsize=TICK_FS, length=5, width=0.8, color='#333333')
    tw.tick_params(which='minor', length=3, width=0.6, color='#333333')
    tw.set_ylabel('dB SPL', fontsize=LABEL_FS)
    for s in tw.spines.values():
        s.set_linewidth(1.2)
    return tw


style(ax1, fmt_hm)
style(ax2, fmt_hms)


def merged(t1, v1, t2, v2):
    pts = sorted(zip(t1 + t2, v1 + v2))
    return [p[0] for p in pts], [p[1] for p in pts]


# top panel
DOT = 13
pz = ax1.scatter(peak_t + peak2_t + out_z_t, peak_z + peak2_z + out_z_v, s=DOT, marker='.', color='#1e90ff',
                 linewidths=0, zorder=3)
pc = ax1.scatter(peak_t + peak2_t + out_c_t, peak_c + peak2_c + out_c_v, s=DOT, marker='.', color='#ff00ff',
                 linewidths=0, zorder=3)
pa = ax1.scatter(peak_t + peak2_t + out_a_t, peak_a + peak2_a + out_a_v, s=DOT, marker='.', color='#2e8b57',
                 linewidths=0, zorder=3)
ax1.plot(*merged(top_t, avg_z, mid_t, mid_z), color='#4682b4', linewidth=1.2, zorder=4)
ax1.plot(*merged(top_t, avg_c, mid_t, mid_c), color='#da70d6', linewidth=1.2, zorder=4)
ax1.plot(*merged(top_t, avg_a, mid_t, mid_a), color='#9acd32', linewidth=1.2, zorder=4)
ax1.set_title('average and peak noise level (1 min sampling)', loc='left', fontsize=8.3, fontweight='bold', pad=5)
leg1_handles = [pz, pc, pa,
                Line2D([], [], color='#4682b4', linewidth=3),
                Line2D([], [], color='#da70d6', linewidth=3),
                Line2D([], [], color='#9acd32', linewidth=3)]
leg1 = ax1.legend(leg1_handles, ['peak dB(Z)', 'peak dB(C)', 'peak dB(A)', 'avg dB(Z)', 'avg dB(C)', 'avg dB(A)'],
                  ncol=2, loc='lower right', fontsize=6.9, markerscale=1.6, frameon=True,
                  facecolor='#fff6d8', edgecolor='#dcc39a', framealpha=0.9, borderaxespad=0.4,
                  handlelength=3.0, columnspacing=2.5, labelspacing=0.2)
leg1.set_zorder(10)

# bottom panel
ax2.fill_between(bot_t, env_lo, env_hi, color=ENV, alpha=0.6, linewidth=0, zorder=2)
ax2.vlines(spike_t, spike_base, spike_v, color=ENV, alpha=0.7, linewidth=1.6, zorder=2)
ax2.plot(bot_t, db_a, color='#ffd700', linewidth=1.5, zorder=3)
ax2.plot(bot_t, db_c, color='#ff8c00', linewidth=1.5, zorder=4)
ax2.plot(bot_t, db_z, color='#dc143c', linewidth=1.5, zorder=5)
ax2.set_title('average noise level (5 min with 15s min/max dB envelope)', loc='left', fontsize=8.3, fontweight='bold', pad=5)
leg2 = ax2.legend([Line2D([], [], color='#dc143c', linewidth=3),
                   Line2D([], [], color='#ff8c00', linewidth=3),
                   Line2D([], [], color='#ffd700', linewidth=3)],
                  ['dB(Z)', 'dB(C)', 'dB(A)'], loc='lower right', fontsize=6.9, frameon=True,
                  facecolor='#fff6d8', edgecolor='#dcc39a', framealpha=0.9, borderaxespad=0.4,
                  handlelength=3.0, labelspacing=0.2)
leg2.set_zorder(10)

fig.savefig('out.png', dpi=100)
